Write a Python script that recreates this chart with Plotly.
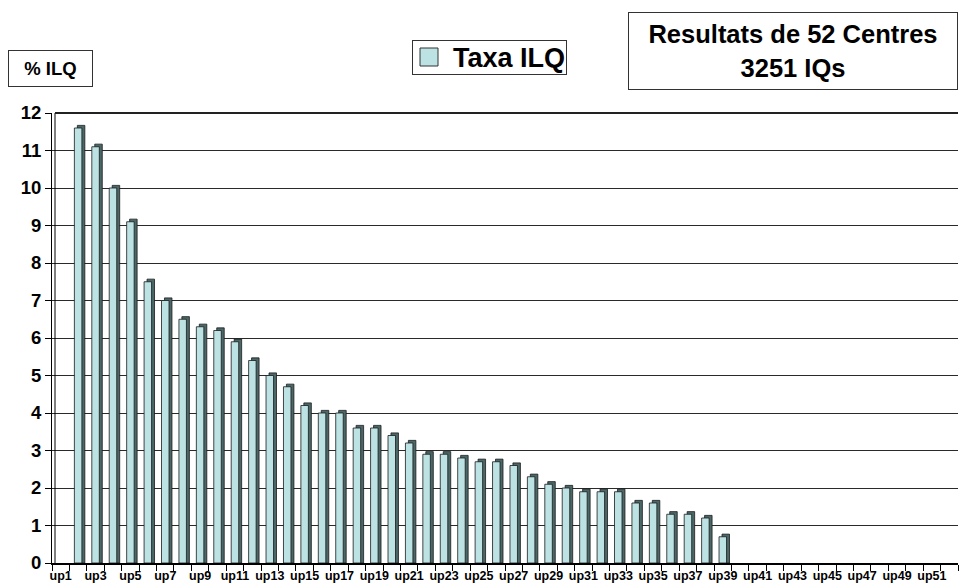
import plotly.graph_objects as go

# Categories: centres up1 .. up52
centres = [f"up{i}" for i in range(1, 53)]

# ILQ rate (%) per centre
taxa_ilq = [0.0,
            11.6, 11.1, 10.0, 9.1, 7.5, 7.0, 6.5, 6.3, 6.2, 5.9,
            5.4, 5.0, 4.7, 4.2, 4.0, 4.0, 3.6, 3.6, 3.4, 3.2,
            2.9, 2.9, 2.8, 2.7, 2.7, 2.6, 2.3, 2.1, 2.0, 1.9,
            1.9, 1.9, 1.6, 1.6, 1.3, 1.3, 1.2, 0.7,
            0.0, 0.0, 0.0, 0.0, 0.0, 0.0, 0.0, 0.0, 0.0, 0.0, 0.0, 0.0, 0.0]

tick_labels = [c if i % 2 == 0 else "" for i, c in enumerate(centres)]

FONT = "Arial, Liberation Sans, sans-serif"
FRONT = "#bde2e3"
SIDE = "#4b6767"
EDGE = "#1a1a1a"

BAR_W = 0.43          # width of the front face, in category units
DEPTH_X = 0.17        # horizontal depth of the 3-D column
DEPTH_Y = 0.07        # vertical depth of the 3-D column

# no outline on empty columns
edge_w = [0.8 if v > 0 else 0 for v in taxa_ilq]

fig = go.Figure()

# dark side/top face of each column, drawn behind the front face
fig.add_trace(go.Bar(
    x=centres,
    y=[v + DEPTH_Y if v > 0 else 0 for v in taxa_ilq],
    width=BAR_W, offset=-BAR_W / 2 + DEPTH_X,
    marker=dict(color=SIDE, line=dict(color=EDGE, width=edge_w)),
    showlegend=False, hoverinfo="skip",
))

# front face
fig.add_trace(go.Bar(
    x=centres, y=taxa_ilq, name="Taxa ILQ",
    width=BAR_W, offset=-BAR_W / 2,
    marker=dict(color=FRONT, line=dict(color=EDGE, width=edge_w)),
    showlegend=False,
))

L, R, T, B = 52, 1, 113, 25
W, H = 959, 588
pw, ph = W - L - R, H - T - B


def px_x(px):
    return (px - L) / pw


def px_y(py):
    return (H - B - py) / ph


fig.update_layout(
    width=W, height=H,
    margin=dict(l=L, r=R, t=T, b=B, pad=0),
    paper_bgcolor="white", plot_bgcolor="white",
    barmode="overlay",
    font=dict(family=FONT, color="black"),
    xaxis=dict(
        type="category", range=[-0.5, 51.5],
        tickvals=centres, ticktext=tick_labels,
        tickson="boundaries", ticks="outside", ticklen=6, tickcolor="black",
        tickfont=dict(size=12.5, weight="bold", family=FONT),
        showline=True, linecolor="black", linewidth=2,
        showgrid=False, zeroline=False, tickangle=0,
    ),
    yaxis=dict(
        range=[0, 12], dtick=1, tick0=0,
        ticks="outside", ticklen=6, tickcolor="black",
        tickfont=dict(size=18.5, weight="bold", family=FONT),
        showline=True, linecolor="black", linewidth=1,
        showgrid=True, gridcolor="#2a2a2a", gridwidth=1,
        zeroline=False,
    ),
    annotations=[
        # axis unit box
        dict(xref="paper", yref="paper", x=px_x(8), y=px_y(50),
             xanchor="left", yanchor="top", showarrow=False,
             text="<b>% ILQ</b>", font=dict(size=18.5, family=FONT),
             width=81, height=33, bordercolor="#333333", borderwidth=1,
             bgcolor="white"),
        # series key
        dict(xref="paper", yref="paper", x=px_x(412), y=px_y(40),
             xanchor="left", yanchor="top", showarrow=False, align="right",
             text="<b>Taxa ILQ</b>", font=dict(size=27, family=FONT),
             width=151, height=31, bordercolor="#333333", borderwidth=1,
             bgcolor="rgba(0,0,0,0)"),
        # title box
        dict(xref="paper", yref="paper", x=px_x(628), y=px_y(12),
             xanchor="left", yanchor="top", showarrow=False, align="center",
             text="<b>Resultats de 52 Centres</b><br><b>3251 IQs</b>",
             font=dict(size=25.5, family=FONT),
             width=326, height=74, bordercolor="#333333", borderwidth=1,
             bgcolor="white"),
    ],
    shapes=[
        # inner edge of the back wall
        dict(type="line", xref="paper", yref="paper",
             x0=px_x(55), x1=px_x(55), y0=0, y1=1,
             line=dict(color="black", width=1)),
        # top edge of the back wall
        dict(type="line", xref="paper", yref="paper",
             x0=px_x(55), x1=1, y0=1, y1=1,
             line=dict(color="#222222", width=2)),
        # key swatch
        dict(type="rect", xref="paper", yref="paper",
             x0=px_x(420), x1=px_x(438), y0=px_y(48), y1=px_y(66),
             fillcolor=FRONT, line=dict(color="#333333", width=1),
             layer="above"),
    ],
)

fig.write_html("out.html")
